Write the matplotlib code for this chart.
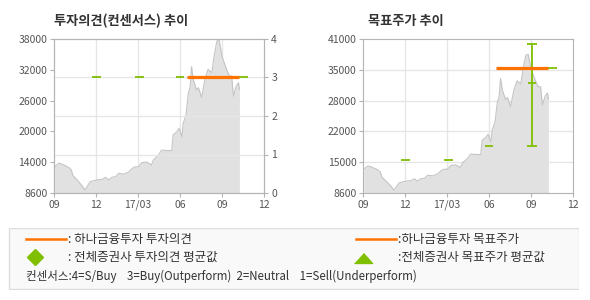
import matplotlib
matplotlib.use('Agg')
import matplotlib.pyplot as plt
import numpy as np
import pandas as pd
from matplotlib.patches import Rectangle

plt.rcParams['font.family'] = ['Noto Sans CJK KR', 'DejaVu Sans']

# 주가 (읽은 값)
price_dates = ['2016-09-02', '2016-09-11', '2016-09-18', '2016-09-25', '2016-10-02', '2016-10-08',
               '2016-10-11', '2016-10-17', '2016-10-24', '2016-10-31', '2016-11-07', '2016-11-11',
               '2016-11-18', '2016-11-26', '2016-12-03', '2016-12-14', '2016-12-21', '2016-12-28',
               '2017-01-04', '2017-01-12', '2017-01-19', '2017-01-30', '2017-02-10', '2017-02-17',
               '2017-02-24', '2017-03-03', '2017-03-10', '2017-03-21', '2017-03-31', '2017-04-04',
               '2017-04-15', '2017-04-22', '2017-05-03', '2017-05-14', '2017-05-17', '2017-05-25',
               '2017-05-30', '2017-06-05', '2017-06-08', '2017-06-14', '2017-06-19', '2017-06-23',
               '2017-06-26', '2017-06-30', '2017-07-07', '2017-07-11', '2017-07-18', '2017-07-25',
               '2017-08-01', '2017-08-09', '2017-08-14', '2017-08-20', '2017-08-25', '2017-08-31',
               '2017-09-05', '2017-09-10', '2017-09-16', '2017-09-21', '2017-09-25', '2017-10-01',
               '2017-10-06', '2017-10-08']
price = [13600, 14300, 14100, 13800, 13500, 13000,
         12000, 11400, 10750, 10000, 9170, 9800,
         10750, 10950, 11100, 11200, 11600, 11100,
         11600, 11700, 12350, 12200, 12650, 13300,
         13600, 13600, 14400, 14500, 13950, 14900,
         15850, 16800, 16700, 16700, 19700, 20300,
         20950, 19350, 21900, 23500, 27600, 28900,
         32700, 30200, 28250, 28700, 26800, 30300,
         32200, 31550, 34750, 37600, 37800, 34750,
         33450, 32200, 30950, 30950, 27100, 29000,
         29650, 28400]

# 하나금융투자 의견/목표가
hana_start, hana_end = '2017-06-16', '2017-10-06'
hana_opinion = 3
hana_target = 35000

# 전체증권사 평균 (구간)
cons_start = ['2016-11-22', '2017-02-23', '2017-05-23', '2017-10-06']
cons_end = ['2016-12-11', '2017-03-15', '2017-06-10', '2017-10-27']
cons_opinion = [3, 3, 3, 3]
cons_target = [15500, 15500, 18500, 35000]
# 목표주가 범위
range_date = '2017-09-03'
range_low, range_high, range_mid = 18500, 40000, 31700

xtick_dates = ['2016-09-01', '2016-12-01', '2017-03-01', '2017-06-01', '2017-09-01', '2017-12-01']
xtick_labels = ['09', '12', '17/03', '06', '09', '12']
left_labels = ['8600', '14000', '20000', '26000', '32000', '38000']
right_labels = ['8600', '15000', '22000', '28000', '35000', '41000']

ORANGE = '#ff7200'
GREEN = '#7fbf00'
GRID = '#e6e6e6'
SPINE = '#b4b4b4'
TXT = '#555555'

pdates = pd.to_datetime(price_dates)
xt = pd.to_datetime(xtick_dates)

fig = plt.figure(figsize=(5.9, 3.0), dpi=100)
W, H = 590, 300


def make_ax(x0):
    ax = fig.add_axes([x0 / W, 1 - 193 / H, 210 / W, 154 / H])
    ax.fill_between(pdates, price, 0, color='#e1e1e1', lw=0, zorder=1)
    ax.plot(pdates, price, color='#c4c4c4', lw=0.8, zorder=2)
    ax.set_xlim(xt[0], xt[-1])
    ax.set_xticks(xt)
    ax.set_xticklabels(xtick_labels)
    for s in ax.spines.values():
        s.set_color(SPINE)
    ax.tick_params(colors=SPINE, labelcolor=TXT, labelsize=7.5, length=3, pad=2)
    for d in xt[1:-1]:
        ax.axvline(d, color=GRID, lw=1, zorder=0.5)
    ax.set_facecolor('white')
    return ax


# ---- 왼쪽: 투자의견
ax1 = make_ax(54.3)
ax1.set_ylim(8600, 38000)
ax1.set_yticks(np.linspace(8600, 38000, 6))
ax1.set_yticklabels(left_labels)
ax1.text(0, 1.12, '투자의견(컨센서스) 추이', transform=ax1.transAxes, fontsize=9.5,
         fontweight='bold', color='#333333', ha='left', va='center')

ax1r = ax1.twinx()
ax1r.set_ylim(0, 4)
ax1r.set_yticks([0, 1, 2, 3, 4])
ax1r.tick_params(colors=SPINE, labelcolor=TXT, labelsize=7.5, length=3, pad=2)
for s in ax1r.spines.values():
    s.set_color(SPINE)
for v in [1, 2, 3]:
    ax1r.axhline(v, color=GRID, lw=1, zorder=0.5)
ax1.set_zorder(1)
ax1r.set_zorder(2)
ax1r.patch.set_visible(False)
for s, e, v in zip(cons_start, cons_end, cons_opinion):
    ax1r.plot(pd.to_datetime([s, e]), [v, v], color=GREEN, lw=1.3, solid_capstyle='butt')
ax1r.plot(pd.to_datetime([hana_start, hana_end]), [hana_opinion] * 2, color=ORANGE, lw=2.3,
          solid_capstyle='butt')

# ---- 오른쪽: 목표주가
ax2 = make_ax(363.3)
ax2.set_ylim(8600, 41000)
ax2.set_yticks(np.linspace(8600, 41000, 6))
ax2.set_yticklabels(right_labels)
for v in np.linspace(8600, 41000, 6)[1:-1]:
    ax2.axhline(v, color=GRID, lw=1, zorder=0.5)
ax2.text(0.02, 1.12, '목표주가 추이', transform=ax2.transAxes, fontsize=9.5,
         fontweight='bold', color='#333333', ha='left', va='center')
for s, e, v in zip(cons_start, cons_end, cons_target):
    ax2.plot(pd.to_datetime([s, e]), [v, v], color=GREEN, lw=1.3, solid_capstyle='butt', zorder=3)
rd = pd.to_datetime(range_date)
ax2.errorbar([rd], [range_mid], yerr=[[range_mid - range_low], [range_high - range_mid]],
             fmt='none', ecolor=GREEN, elinewidth=1.3, capsize=3.5, capthick=1.3, zorder=4)
ax2.plot([rd], [range_mid], marker='_', ms=6, mew=1.3, color=GREEN, zorder=4)
ax2.plot(pd.to_datetime([hana_start, hana_end]), [hana_target] * 2, color=ORANGE, lw=2.3,
         solid_capstyle='butt', zorder=5)

# ---- 범례 박스
lg = fig.add_axes([8.3 / W, 1 - 289.7 / H, 571 / W, 61.7 / H])
lg.set_xlim(8.3, 579.3)
lg.set_ylim(289.7, 228)
lg.axis('off')
lg.add_patch(Rectangle((8.8, 228.5), 570, 60.7, facecolor='#f9f9f9', edgecolor='#dddddd', lw=1))
lfs = 9
lg.plot([26, 65.7], [239.3, 239.3], color=ORANGE, lw=1.8)
lg.text(68.3, 239.3, ': 하나금융투자 투자의견', fontsize=lfs, color='#333333', va='center')
lg.plot([35], [257], marker='D', ms=8, color=GREEN, mec=GREEN)
lg.text(68.3, 257, ': 전체증권사 투자의견 평균값', fontsize=lfs, color='#333333', va='center')
lg.text(26, 276, '컨센서스:4=S/Buy    3=Buy(Outperform)  2=Neutral    1=Sell(Underperform)',
        fontsize=8.3, color='#333333', va='center')
lg.plot([355.7, 396], [239.3, 239.3], color=ORANGE, lw=1.8)
lg.text(398.3, 239.3, ':하나금융투자 목표주가', fontsize=lfs, color='#333333', va='center')
lg.plot([363.3], [258], marker=[(-1, -0.55), (1, -0.55), (0, 0.55)], ms=13, color=GREEN, mec=GREEN)
lg.text(398.3, 257, ':전체증권사 목표주가 평균값', fontsize=lfs, color='#333333', va='center')

fig.savefig('out.png', dpi=100)
